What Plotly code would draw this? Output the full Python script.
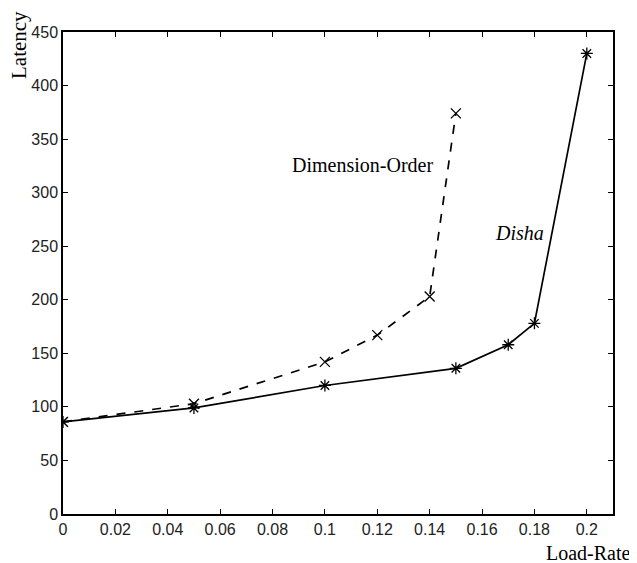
import plotly.graph_objects as go

# Data
dim_x = [0.0, 0.05, 0.10, 0.12, 0.14, 0.15]
dim_y = [86, 103, 142, 167, 203, 374]
disha_x = [0.0, 0.05, 0.10, 0.15, 0.17, 0.18, 0.20]
disha_y = [86, 99, 120, 136, 158, 178, 430]

x_ticks = [0, 0.02, 0.04, 0.06, 0.08, 0.1, 0.12, 0.14, 0.16, 0.18, 0.2]
x_tick_text = ["0", "0.02", "0.04", "0.06", "0.08", "0.1", "0.12", "0.14", "0.16", "0.18", "0.2"]
y_ticks = [0, 50, 100, 150, 200, 250, 300, 350, 400, 450]

tick_font = dict(family="Liberation Sans Narrow, Arial Narrow, Liberation Sans, Arial", size=16, color="#222")
serif = "Liberation Serif, Times New Roman, serif"

# the page body adds an 8px offset; the figure is sized to fill the rest of the window
W, H = 629, 555
L, T, R, B = 55, 24, 24, 49
pw = W - L - R
ph = H - T - B

fig = go.Figure()
fig.add_trace(go.Scatter(
    x=dim_x, y=dim_y, mode="lines+markers", name="Dimension-Order",
    line=dict(color="black", width=1.7, dash="dash"),
    marker=dict(symbol="x-thin-open", size=10, color="black", line=dict(width=1.3, color="black")),
))
fig.add_trace(go.Scatter(
    x=disha_x, y=disha_y, mode="lines+markers", name="Disha",
    line=dict(color="black", width=1.7),
    marker=dict(symbol="asterisk-open", size=10, color="black", line=dict(width=1.3, color="black")),
))

fig.add_annotation(x=0.1145, y=326, xref="x", yref="y", text="Dimension-Order",
                   showarrow=False, font=dict(family=serif, size=20, color="black"))
fig.add_annotation(x=0.1744, y=262, xref="x", yref="y", text="<i>Disha</i>",
                   showarrow=False, font=dict(family=serif, size=20, color="black"))
fig.add_annotation(x=-44 / pw, y=469 / ph, xref="paper", yref="paper", text="Latency", textangle=-90,
                   showarrow=False, xanchor="center", yanchor="middle",
                   font=dict(family=serif, size=21, color="black"))
fig.add_annotation(x=(633 - 63) / pw, y=-39 / ph, xref="paper", yref="paper",
                   text="Load-Rate", showarrow=False, xanchor="right", yanchor="middle",
                   font=dict(family=serif, size=20, color="black"))

fig.update_layout(
    width=W, height=H,
    margin=dict(l=L, r=R, t=T, b=B, autoexpand=False),
    paper_bgcolor="white", plot_bgcolor="white",
    showlegend=False,
    xaxis=dict(range=[0, 0.21], tickvals=x_ticks, ticktext=x_tick_text,
               ticks="inside", ticklen=5, tickcolor="black", mirror="ticks",
               showline=True, linecolor="black", linewidth=1.5, showgrid=False, zeroline=False,
               tickfont=tick_font, automargin=False),
    yaxis=dict(range=[0, 450], tickvals=y_ticks,
               ticks="inside", ticklen=5, tickcolor="black", mirror="ticks",
               showline=True, linecolor="black", linewidth=1.5, showgrid=False, zeroline=False,
               tickfont=tick_font, automargin=False),
)

fig.write_html("out.html")
